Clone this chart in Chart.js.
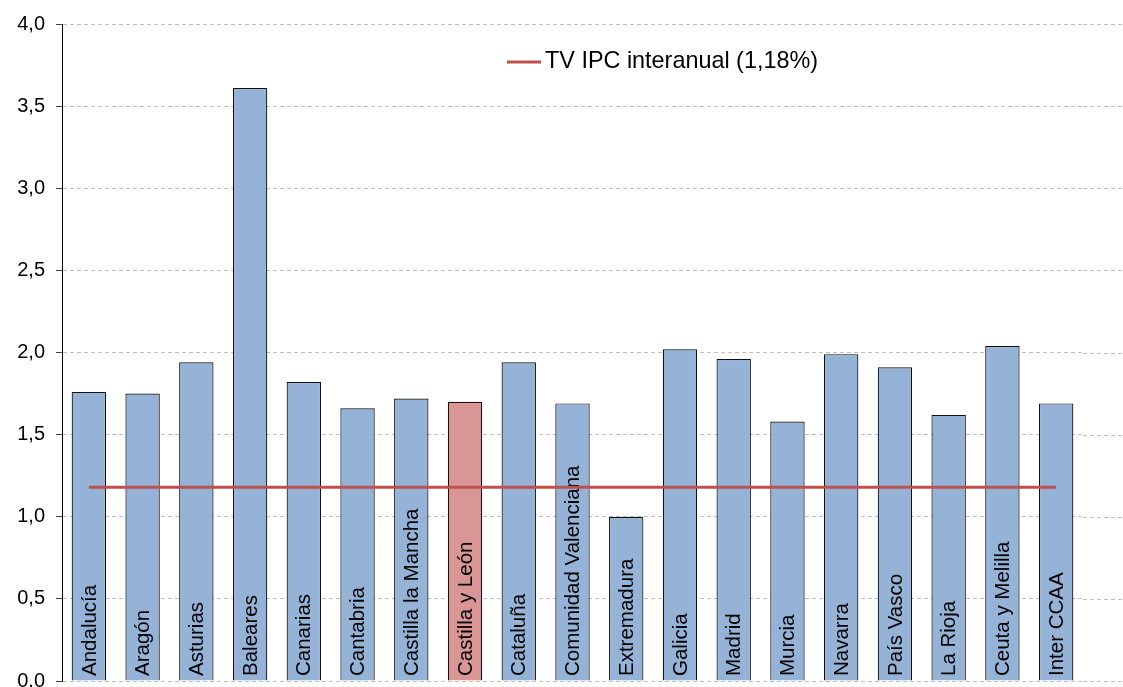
<!DOCTYPE html>
<html>
<head>
<meta charset="utf-8">
<script src="https://cdn.jsdelivr.net/npm/chart.js@4"></script>
<style>
html,body{margin:0;padding:0;background:#fff;overflow:hidden;}
canvas{display:block;}
</style>
</head>
<body>
<canvas id="c" width="1123" height="687"></canvas>
<script>
const categories = ["Andalucía","Aragón","Asturias","Baleares","Canarias","Cantabria","Castilla la Mancha","Castilla y León","Cataluña","Comunidad Valenciana","Extremadura","Galicia","Madrid","Murcia","Navarra","País Vasco","La Rioja","Ceuta y Melilla","Inter CCAA"];
const values = [1.76,1.75,1.94,3.61,1.82,1.66,1.72,1.70,1.94,1.69,1.00,2.02,1.96,1.58,1.99,1.91,1.62,2.04,1.69];
const ipcLine = [1.18,1.18,1.18,1.18,1.18,1.18,1.18,1.18,1.18,1.18,1.18,1.18,1.18,1.18,1.18,1.18,1.18,1.18,1.18];
const lineLabel = "TV IPC interanual (1,18%)";
const yTickValues = [0,0.5,1,1.5,2,2.5,3,3.5,4];
const yTickLabels = ["0,0","0,5","1,0","1,5","2,0","2,5","3,0","3,5","4,0"];
const highlight = "Castilla y León";

const FONT = "'Liberation Sans', Arial, sans-serif";
const barColors = categories.map(c => c === highlight ? "#D99694" : "#95B3D7");

const barLabelPlugin = {
  id: 'barLabels',
  afterDatasetDraw(chart, args) {
    if (args.index !== 1) return;
    const ctx = chart.ctx;
    const meta = args.meta;
    const bottom = chart.chartArea.bottom;
    ctx.save();
    ctx.font = "20.5px " + FONT;
    ctx.fillStyle = "#000";
    ctx.textAlign = "left";
    ctx.textBaseline = "middle";
    meta.data.forEach((bar, i) => {
      ctx.save();
      ctx.translate(bar.x + 1, bottom - 5);
      ctx.rotate(-Math.PI / 2);
      ctx.fillText(categories[i], 0, 0);
      ctx.restore();
    });
    ctx.restore();
  }
};

const extendGridPlugin = {
  id: 'extendGrid',
  beforeDatasetsDraw(chart) {
    const ctx = chart.ctx;
    const y = chart.scales.y;
    ctx.save();
    ctx.strokeStyle = "#C0C0C0";
    ctx.lineWidth = 1;
    ctx.setLineDash([4, 3]);
    yTickValues.forEach(v => {
      const py = Math.round(y.getPixelForValue(v)) + 0.5;
      ctx.beginPath();
      ctx.moveTo(chart.chartArea.right, py);
      ctx.lineTo(chart.width, py);
      ctx.stroke();
    });
    ctx.restore();
  }
};

const legendPlugin = {
  id: 'customLegend',
  afterDraw(chart) {
    const ctx = chart.ctx;
    ctx.save();
    ctx.strokeStyle = "#C0504D";
    ctx.lineWidth = 3;
    ctx.beginPath();
    ctx.moveTo(507, 62);
    ctx.lineTo(541, 62);
    ctx.stroke();
    ctx.font = "23.4px " + FONT;
    ctx.fillStyle = "#000";
    ctx.textAlign = "left";
    ctx.textBaseline = "middle";
    ctx.fillText(lineLabel, 545, 62);
    ctx.restore();
  }
};

new Chart(document.getElementById('c'), {
  data: {
    labels: categories,
    datasets: [
      {
        type: 'line',
        label: lineLabel,
        data: ipcLine,
        borderColor: "#C0504D",
        borderWidth: 3,
        pointRadius: 0,
        fill: false,
        order: 0
      },
      {
        type: 'bar',
        label: 'TV',
        data: values,
        backgroundColor: barColors,
        borderColor: "#111111",
        borderWidth: 1.2,
        categoryPercentage: 1,
        barPercentage: 0.64,
        order: 1
      }
    ]
  },
  options: {
    responsive: false,
    animation: false,
    devicePixelRatio: 1,
    layout: { padding: { left: 0, right: 40, top: 24, bottom: 6 } },
    plugins: { legend: { display: false }, tooltip: { enabled: false } },
    scales: {
      x: {
        type: 'category',
        display: false
      },
      y: {
        min: 0,
        max: 4,
        afterBuildTicks(scale) { scale.ticks = yTickValues.map(v => ({ value: v })); },
        afterFit(scale) { scale.width = 62; scale.paddingTop = 0; scale.paddingBottom = 0; },
        ticks: {
          font: { size: 20, family: FONT },
          color: "#000",
          padding: 11,
          callback: (v) => yTickLabels[yTickValues.indexOf(v)]
        },
        grid: {
          color: "#C0C0C0",
          tickColor: "#404040",
          tickLength: 6,
          tickBorderDash: [1, 0]
        },
        border: { display: true, color: "#000", width: 1, dash: [4, 3] }
      }
    }
  },
  plugins: [barLabelPlugin, extendGridPlugin, legendPlugin]
});
</script>
</body>
</html>
